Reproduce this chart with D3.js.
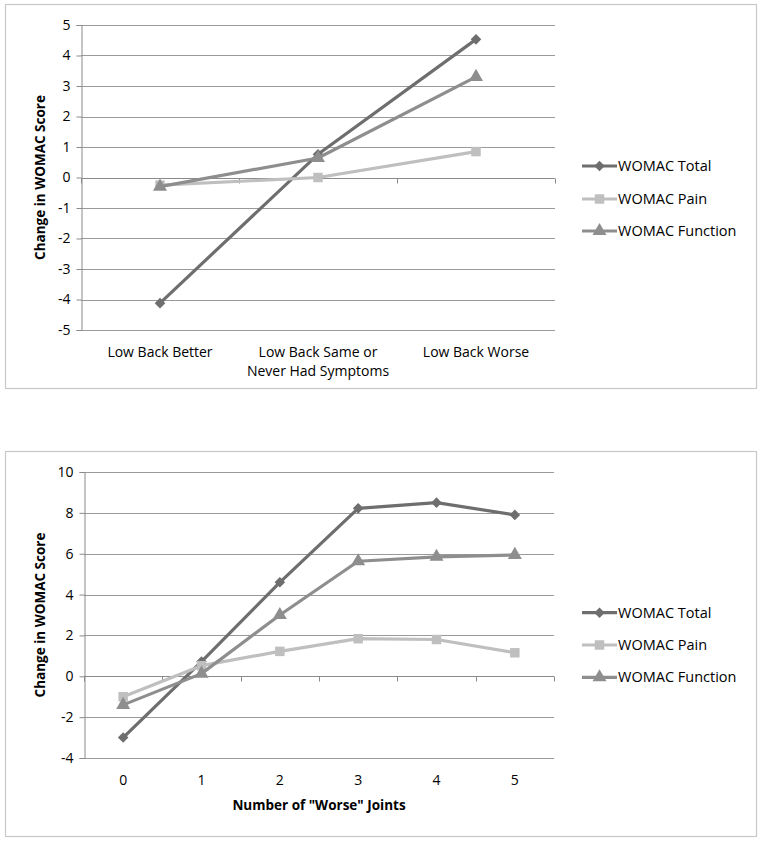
<!DOCTYPE html>
<html><head><meta charset="utf-8">
<script src="https://cdn.jsdelivr.net/npm/d3@7"></script>
<style>body{margin:0;background:#fff}svg{display:block}text{font-family:"Open Sans","Lato",sans-serif;fill:#000}</style>
</head><body>
<svg id="c" width="762" height="842"></svg>
<script>
// Chart 1 data
const cats1 = ["Low Back Better", "Low Back Same or|Never Had Symptoms", "Low Back Worse"];
const total1 = [-4.12, 0.76, 4.53];
const pain1 = [-0.25, 0.0, 0.85];
const func1 = [-0.3, 0.64, 3.3];
const yTicks1 = [-5, -4, -3, -2, -1, 0, 1, 2, 3, 4, 5];

// Chart 2 data
const cats2 = ["0", "1", "2", "3", "4", "5"];
const total2 = [-3.0, 0.72, 4.6, 8.22, 8.5, 7.9];
const pain2 = [-1.0, 0.52, 1.22, 1.84, 1.8, 1.15];
const func2 = [-1.4, 0.13, 3.0, 5.63, 5.85, 5.94];
const yTicks2 = [-4, -2, 0, 2, 4, 6, 8, 10];

const seriesNames = ["WOMAC Total", "WOMAC Pain", "WOMAC Function"];
const seriesColors = ["#6e6e6e", "#bfbfbf", "#8e8e8e"];
const seriesShapes = [d3.symbolSquare, d3.symbolSquare, d3.symbolTriangle];
const shapeSizes = [56, 90, 85];
const shapeRot = [45, 0, 0];

const svg = d3.select("#c");

function drawChart(cfg) {
  const g = svg.append("g");
  g.append("rect").attr("x", cfg.box[0]).attr("y", cfg.box[1])
    .attr("width", cfg.box[2]).attr("height", cfg.box[3])
    .attr("fill", "#fff").attr("stroke", "#c8c8c8").attr("stroke-width", 1.2);

  const x = d3.scaleBand().domain(cfg.cats).range([cfg.left, cfg.right]);
  const y = d3.scaleLinear().domain([cfg.yTicks[0], cfg.yTicks[cfg.yTicks.length - 1]]).range([cfg.bottom, cfg.top]);

  // gridlines
  g.append("g").selectAll("line").data(cfg.yTicks).join("line")
    .attr("x1", cfg.left).attr("x2", cfg.right)
    .attr("y1", d => Math.round(y(d)) + 0.5).attr("y2", d => Math.round(y(d)) + 0.5)
    .attr("stroke", "#9a9a9a").attr("stroke-width", 1);

  // y axis
  const ya = g.append("g").attr("transform", `translate(${cfg.left + 0.5},0)`)
    .call(d3.axisLeft(y).tickValues(cfg.yTicks).tickSize(5).tickPadding(6).tickFormat(d => String(d)));
  ya.select(".domain").attr("stroke", "#8a8a8a");
  ya.selectAll(".tick line").attr("stroke", "#8a8a8a");
  ya.selectAll("text").style("font-size", "14px").attr("fill", "#000");

  // x axis at zero
  const y0 = Math.round(y(0)) + 0.5;
  const xa = g.append("g").attr("transform", `translate(0,${y0})`);
  xa.append("line").attr("x1", cfg.left).attr("x2", cfg.right).attr("stroke", "#8a8a8a");
  const bounds = cfg.cats.map(c => x(c)).concat([cfg.right]);
  xa.selectAll("line.t").data(bounds).join("line").attr("class", "t")
    .attr("x1", d => Math.round(d) + 0.5).attr("x2", d => Math.round(d) + 0.5)
    .attr("y1", 0).attr("y2", 5).attr("stroke", "#8a8a8a");

  // category labels at bottom
  const lab = g.append("g");
  cfg.cats.forEach(c => {
    const lines = c.split("|");
    const t = lab.append("text").attr("text-anchor", "middle")
      .attr("x", x(c) + x.bandwidth() / 2).attr("y", cfg.bottom + cfg.labelOffset)
      .style("font-size", "14px");
    lines.forEach((l, i) => t.append("tspan").attr("x", x(c) + x.bandwidth() / 2).attr("dy", i === 0 ? 0 : 19).text(l));
  });

  // y title
  g.append("text").attr("transform", `translate(${cfg.yTitleX},${(cfg.top + cfg.bottom) / 2}) rotate(-90)`)
    .attr("text-anchor", "middle").style("font-size", "13.5px").style("font-weight", "bold")
    .text("Change in WOMAC Score");

  if (cfg.xTitle) {
    g.append("text").attr("x", (cfg.left + cfg.right) / 2).attr("y", cfg.xTitleY)
      .attr("text-anchor", "middle").style("font-size", "13.5px").style("font-weight", "bold")
      .text(cfg.xTitle);
  }

  // series
  const line = d3.line().x((d, i) => x(cfg.cats[i]) + x.bandwidth() / 2).y(d => y(d));
  cfg.series.forEach((s, k) => {
    const sg = g.append("g");
    sg.append("path").datum(s).attr("d", line).attr("fill", "none")
      .attr("stroke", seriesColors[k]).attr("stroke-width", 3.2).attr("stroke-linejoin", "round");
    sg.selectAll("path.m").data(s).join("path").attr("class", "m")
      .attr("d", d3.symbol().type(seriesShapes[k]).size(shapeSizes[k]))
      .attr("transform", (d, i) => `translate(${x(cfg.cats[i]) + x.bandwidth() / 2},${y(d)}) rotate(${shapeRot[k]})`)
      .attr("fill", seriesColors[k]);
  });

  // legend
  const lg = g.append("g");
  seriesNames.forEach((n, k) => {
    const ly = cfg.legendY[k];
    lg.append("line").attr("x1", 582).attr("x2", 617).attr("y1", ly).attr("y2", ly)
      .attr("stroke", seriesColors[k]).attr("stroke-width", 3.2);
    lg.append("path").attr("d", d3.symbol().type(seriesShapes[k]).size(shapeSizes[k]))
      .attr("transform", `translate(599.5,${ly}) rotate(${shapeRot[k]})`).attr("fill", seriesColors[k]);
    lg.append("text").attr("x", 618).attr("y", ly).attr("dy", "0.35em")
      .style("font-size", "14.5px").text(n);
  });
}

drawChart({
  box: [5.5, 4.5, 751, 384],
  cats: cats1, yTicks: yTicks1,
  left: 81, right: 555, top: 25, bottom: 330,
  labelOffset: 27, yTitleX: 45,
  series: [total1, pain1, func1],
  legendY: [166, 199, 231]
});

drawChart({
  box: [5.5, 451.5, 751, 385],
  cats: cats2, yTicks: yTicks2,
  left: 84, right: 554, top: 472, bottom: 758,
  labelOffset: 27, yTitleX: 45,
  xTitle: 'Number of "Worse" Joints', xTitleY: 810,
  series: [total2, pain2, func2],
  legendY: [612.7, 645, 677.3]
});
</script>
</body></html>
